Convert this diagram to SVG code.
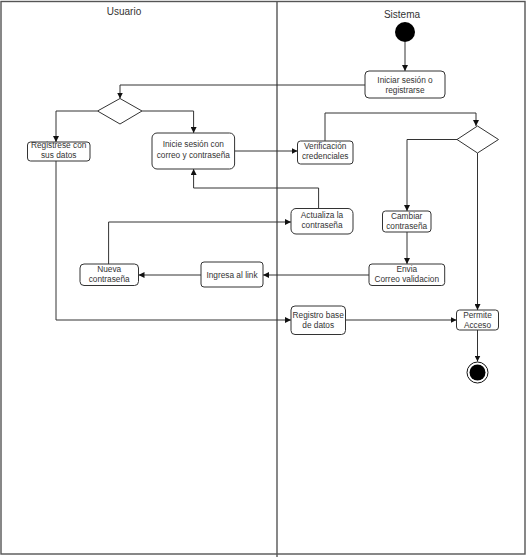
<svg xmlns="http://www.w3.org/2000/svg" width="527" height="557" viewBox="0 0 527 557">
<style>
.frame{fill:none;stroke:#555;stroke-width:1.4}
.box{fill:#fff;stroke:#333;stroke-width:1}
.dia{fill:#fff;stroke:#333;stroke-width:1}
.con{fill:none;stroke:#333;stroke-width:1}
.t{font-family:"Liberation Sans",Arial,sans-serif;font-size:8.3px;fill:#333;text-anchor:middle}
.h{font-family:"Liberation Sans",Arial,sans-serif;font-size:10px;fill:#333;text-anchor:middle}
</style>
<defs>
<marker id="arr" markerUnits="userSpaceOnUse" markerWidth="6" markerHeight="6" viewBox="0 0 6 6" refX="6" refY="3" orient="auto">
<path d="M0,0 L6,3 L0,6 Z" fill="#111"/>
</marker>
</defs>
<rect width="527" height="557" fill="#fff"/>
<g id="lanes">
<rect class="frame" x="1" y="1.5" width="524" height="552.5"/>
<line class="frame" x1="277" y1="1.5" x2="277" y2="557"/>
<text class="h" x="124" y="15">Usuario</text>
<text class="h" x="402" y="17.5">Sistema</text>
</g>
<g id="connectors">
<path class="con" d="M405,42 V71" marker-end="url(#arr)"/>
<path class="con" d="M365,85 H120 V98.5" marker-end="url(#arr)"/>
<path class="con" d="M97.5,111 H56 V142" marker-end="url(#arr)"/>
<path class="con" d="M142,111 H193.6 V133" marker-end="url(#arr)"/>
<path class="con" d="M234.6,151 H297.5" marker-end="url(#arr)"/>
<path class="con" d="M325,141 V113 H476 V126" marker-end="url(#arr)"/>
<path class="con" d="M457,139.5 H407 V211" marker-end="url(#arr)"/>
<path class="con" d="M477.5,153 V310" marker-end="url(#arr)"/>
<path class="con" d="M407,232 V264" marker-end="url(#arr)"/>
<path class="con" d="M369,275 H263" marker-end="url(#arr)"/>
<path class="con" d="M201,275 H138.5" marker-end="url(#arr)"/>
<path class="con" d="M108.6,264 V222 H291" marker-end="url(#arr)"/>
<path class="con" d="M318.6,208.5 V188 H193.6 V169" marker-end="url(#arr)"/>
<path class="con" d="M56,161 V320 H291" marker-end="url(#arr)"/>
<path class="con" d="M345.5,320 H456.5" marker-end="url(#arr)"/>
<path class="con" d="M477.5,330 V361.5" marker-end="url(#arr)"/>
</g>
<g id="start"><circle cx="405" cy="32" r="10" fill="#000"/></g>
<g id="iniciar">
<rect class="box" x="365" y="71" width="80" height="27" rx="4"/>
<text class="t" x="405" y="82.5">Iniciar sesión o</text>
<text class="t" x="405" y="92.5">registrarse</text>
</g>
<g id="decision1"><polygon class="dia" points="97.5,111 120,98.5 142,111 120,124"/></g>
<g id="registrese">
<rect class="box" x="27.5" y="142" width="62.5" height="19" rx="3"/>
<text class="t" x="58.7" y="147.5">Registrese con</text>
<text class="t" x="58.7" y="158">sus datos</text>
</g>
<g id="inicie">
<rect class="box" x="152" y="133" width="82.6" height="36" rx="5"/>
<text class="t" x="193.3" y="147">Inicie sesión con</text>
<text class="t" x="193.3" y="157.5">correo y contraseña</text>
</g>
<g id="verificacion">
<rect class="box" x="297.5" y="141" width="55.5" height="23" rx="3"/>
<text class="t" x="325.2" y="148.5">Verificación</text>
<text class="t" x="325.2" y="159">credenciales</text>
</g>
<g id="decision2"><polygon class="dia" points="457,139.5 477.5,126 498.5,139.5 477.5,153"/></g>
<g id="actualiza">
<rect class="box" x="291" y="208.5" width="62" height="25.5" rx="5"/>
<text class="t" x="322" y="217.5">Actualiza la</text>
<text class="t" x="322" y="227.5">contraseña</text>
</g>
<g id="cambiar">
<rect class="box" x="382.5" y="211" width="48.5" height="21" rx="3"/>
<text class="t" x="406.7" y="218.5">Cambiar</text>
<text class="t" x="406.7" y="228.5">contraseña</text>
</g>
<g id="envia">
<rect class="box" x="369" y="264" width="75.7" height="21.5" rx="3"/>
<text class="t" x="406.8" y="271.7">Envia</text>
<text class="t" x="406.8" y="281.9">Correo validacion</text>
</g>
<g id="ingresa">
<rect class="box" x="201" y="262" width="62" height="25" rx="3"/>
<text class="t" x="232" y="277.5">Ingresa al link</text>
</g>
<g id="nueva">
<rect class="box" x="80" y="264" width="58.5" height="21.5" rx="4"/>
<text class="t" x="109.2" y="271.7">Nueva</text>
<text class="t" x="109.2" y="282.2">contraseña</text>
</g>
<g id="registro">
<rect class="box" x="291" y="306" width="54.5" height="28.5" rx="4"/>
<text class="t" x="318.2" y="317.7">Registro base</text>
<text class="t" x="318.2" y="327.8">de datos</text>
</g>
<g id="permite">
<rect class="box" x="456.5" y="310" width="42" height="20" rx="3"/>
<text class="t" x="477.5" y="317.7">Permite</text>
<text class="t" x="477.5" y="327.8">Acceso</text>
</g>
<g id="end">
<circle cx="477.5" cy="372.5" r="10.5" fill="#fff" stroke="#111" stroke-width="1"/>
<circle cx="477.5" cy="372.5" r="8" fill="#000"/>
</g>
</svg>
